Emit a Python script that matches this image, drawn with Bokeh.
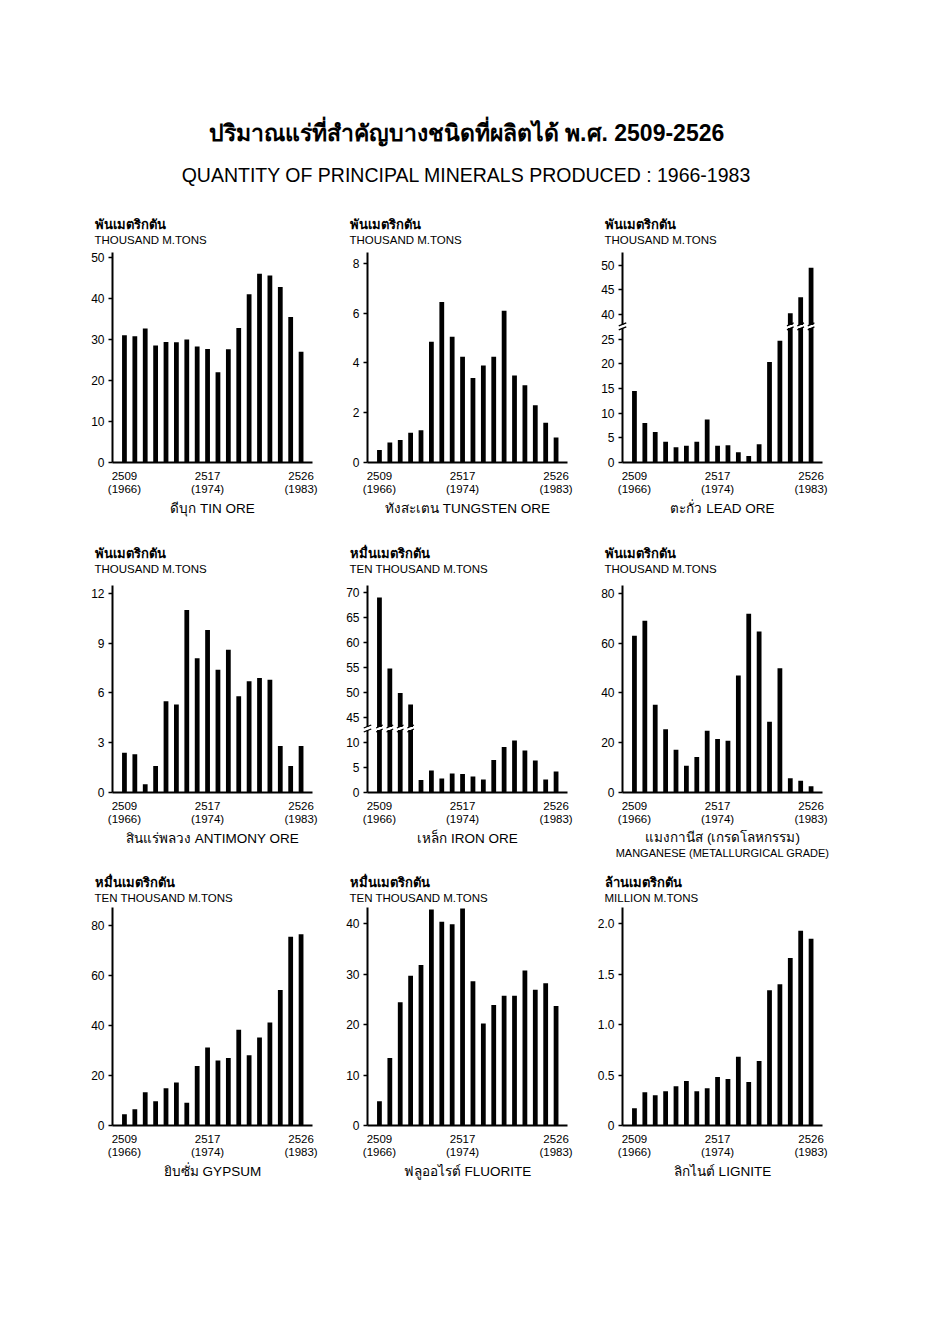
from bokeh.plotting import figure
from bokeh.models import Title, Range1d, FixedTicker, Spacer
from bokeh.layouts import column, row
from bokeh.embed import file_html
from bokeh.resources import INLINE

FONT = "Liberation Sans"

# ---------------- data ----------------
years_be = list(range(2509, 2527))          # Buddhist Era years
tick_be = [2509, 2517, 2526]
tick_ce = [1966, 1974, 1983]

tin = [31.0, 30.8, 32.7, 28.5, 29.4, 29.3, 30.0, 28.3, 27.7, 22.0, 27.6, 32.8, 41.0, 46.0, 45.6, 42.8, 35.5, 27.0]
tungsten = [0.5, 0.8, 0.9, 1.2, 1.3, 4.85, 6.45, 5.05, 4.25, 3.4, 3.9, 4.25, 6.1, 3.5, 3.1, 2.3, 1.6, 1.0]
lead = [14.5, 8.0, 6.2, 4.2, 3.1, 3.4, 4.2, 8.7, 3.4, 3.5, 2.1, 1.3, 3.7, 20.4, 24.7, 40.3, 43.5, 49.5]
antimony = [2.4, 2.3, 0.5, 1.6, 5.5, 5.3, 11.0, 8.1, 9.8, 7.4, 8.6, 5.8, 6.7, 6.9, 6.8, 2.8, 1.6, 2.8]
iron = [69.0, 54.8, 49.9, 47.6, 2.5, 4.4, 2.8, 3.8, 3.7, 3.2, 2.6, 6.5, 9.1, 10.4, 8.4, 6.4, 2.6, 4.2]
manganese = [63.0, 69.0, 35.3, 25.4, 17.2, 10.8, 14.3, 24.8, 21.5, 20.8, 47.0, 71.8, 64.7, 28.4, 49.9, 5.7, 4.7, 2.5]
gypsum = [4.5, 6.5, 13.3, 9.7, 14.9, 17.2, 9.1, 23.8, 31.2, 26.0, 27.0, 38.3, 28.1, 35.2, 41.2, 54.2, 75.5, 76.5]
fluorite = [4.8, 13.4, 24.4, 29.7, 31.8, 42.8, 40.4, 39.9, 43.0, 28.6, 20.2, 23.9, 25.7, 25.7, 30.7, 26.9, 28.2, 23.7]
lignite = [0.17, 0.33, 0.30, 0.34, 0.39, 0.44, 0.34, 0.37, 0.48, 0.46, 0.68, 0.43, 0.64, 1.34, 1.40, 1.66, 1.93, 1.85]

# broken-axis descriptions: (break position on the drawn scale, amount removed above it)
lead_break = (27.6, 10.0)
iron_break = (12.8, 30.0)

lead_ticks = [0, 5, 10, 15, 20, 25, 40, 45, 50]
iron_ticks = [0, 5, 10, 45, 50, 55, 60, 65, 70]

TH_THOUSAND = "พันเมตริกตัน"
TH_TENTHOUSAND = "หมื่นเมตริกตัน"
TH_MILLION = "ล้านเมตริกตัน"
EN_THOUSAND = "THOUSAND M.TONS"
EN_TENTHOUSAND = "TEN THOUSAND M.TONS"
EN_MILLION = "MILLION M.TONS"

# ---------------- helpers ----------------
LEFT_B = 45
FRAME_W = 200
X0, X1 = 2507.85, 2527.1


def to_display(vals, brk):
    if brk is None:
        return list(vals)
    pos, cut = brk
    return [v if v < pos else v - cut for v in vals]


def add_title(p, text, loc, size, style="normal", align="left", offset=0, standoff=None):
    t = Title(text=text, align=align, text_font_size=f"{size}px", text_font=FONT,
              text_font_style=style, offset=offset, text_color="black")
    if standoff is not None:
        t.standoff = standoff
    p.add_layout(t, loc)


def break_marks(p, xs, pos, scale, half_w, level="glyph"):
    p.rect(x=xs, y=[pos] * len(xs), width=2 * half_w, height=3 * scale,
           fill_color="white", line_color=None, level=level)
    p.segment(x0=[x - half_w * 0.8 for x in xs], y0=[pos - 3.5 * scale] * len(xs),
              x1=[x + half_w * 0.8 for x in xs], y1=[pos - 0.5 * scale] * len(xs),
              line_color="black", line_width=1.3, level=level)
    p.segment(x0=[x - half_w * 0.8 for x in xs], y0=[pos + 0.5 * scale] * len(xs),
              x1=[x + half_w * 0.8 for x in xs], y1=[pos + 3.5 * scale] * len(xs),
              line_color="black", line_width=1.3, level=level)


def panel(vals, y_end, ticks, unit_th, unit_en, names, frame_h, bottom_b, top_b=45,
          brk=None, tick_labels=None, col_w=255, unit_gap=4.0):
    height = top_b + frame_h + bottom_b
    p = figure(width=col_w, height=height, output_backend="svg", toolbar_location=None,
               x_range=Range1d(X0, X1), y_range=Range1d(0, y_end),
               min_border_left=LEFT_B, min_border_right=col_w - LEFT_B - FRAME_W,
               min_border_top=top_b, min_border_bottom=bottom_b,
               background_fill_color="white", border_fill_color="white")
    p.outline_line_color = None
    p.grid.visible = False

    disp = to_display(vals, brk)
    p.vbar(x=years_be, top=disp, bottom=0, width=0.46, fill_color="black", line_color=None)

    if brk is not None:
        pos, cut = brk
        bx = [x for x, v in zip(years_be, vals) if v >= pos]
        scale = y_end / frame_h
        break_marks(p, bx, pos, scale, 0.4)
        # break on the value axis itself
        break_marks(p, [X0], pos, scale, 0.45, level="overlay")

    # x axis
    xa = p.xaxis[0]
    xa.ticker = FixedTicker(ticks=tick_be)
    xa.major_label_overrides = {b: f"{b}\n({c})" for b, c in zip(tick_be, tick_ce)}
    xa.axis_line_width = 2
    xa.axis_line_color = "black"
    xa.major_tick_line_color = None
    xa.minor_tick_line_color = None
    xa.major_label_standoff = 1
    xa.major_label_text_font = FONT
    xa.major_label_text_font_size = "11.5px"
    xa.major_label_text_color = "black"
    xa.major_label_text_line_height = 1.1

    # y axis
    ya = p.yaxis[0]
    if brk is None:
        ya.ticker = FixedTicker(ticks=ticks)
        if tick_labels:
            ya.major_label_overrides = tick_labels
    else:
        disp_ticks = to_display(ticks, brk)
        ya.ticker = FixedTicker(ticks=disp_ticks)
        ya.major_label_overrides = {d: str(t) for d, t in zip(disp_ticks, ticks)}
    ya.axis_line_width = 2
    ya.axis_line_color = "black"
    ya.major_tick_line_color = "black"
    ya.major_tick_line_width = 1.5
    ya.major_tick_in = 0
    ya.major_tick_out = 4
    ya.minor_tick_line_color = None
    ya.major_label_standoff = 4
    ya.major_label_text_font = FONT
    ya.major_label_text_font_size = "12px"
    ya.major_label_text_color = "black"

    # units above (blank spacer title keeps them clear of the frame)
    add_title(p, " ", "above", unit_gap, standoff=0)
    add_title(p, unit_en, "above", 11.5, offset=-18, standoff=0)
    add_title(p, unit_th, "above", 13, style="bold", offset=-18, standoff=0)
    # names below
    if len(names) == 1:
        add_title(p, names[0], "below", 13.5, align="center", standoff=3)
    else:
        add_title(p, names[0], "below", 13.5, align="center", standoff=0)
        add_title(p, names[1], "below", 11, align="center", standoff=0)
    return p


# ---------------- header ----------------
header = figure(width=932, height=207, output_backend="svg", toolbar_location=None,
                min_border_top=198, min_border_bottom=0, min_border_left=0, min_border_right=0,
                x_range=Range1d(0, 1), y_range=Range1d(0, 1))
header.axis.visible = False
header.grid.visible = False
header.outline_line_color = None
add_title(header, "QUANTITY OF PRINCIPAL MINERALS PRODUCED : 1966-1983", "above", 19.5,
          align="center", standoff=26)
add_title(header, "ปริมาณแร่ที่สำคัญบางชนิดที่ผลิตได้ พ.ศ. 2509-2526", "above", 23,
          style="bold", align="center", standoff=6)

# ---------------- panels ----------------
R1H, R1B = 210, 78
R2H, R2B = 207, 76
R3H, R3B, R3T = 218, 70, 39
C3W = 285
G1, G2, G3 = 4.3, 7.4, 2.2

p_tin = panel(tin, 51.2, [0, 10, 20, 30, 40, 50], TH_THOUSAND, EN_THOUSAND,
              ["ดีบุก TIN ORE"], R1H, R1B, unit_gap=G1)
p_tung = panel(tungsten, 8.44, [0, 2, 4, 6, 8], TH_THOUSAND, EN_THOUSAND,
               ["ทังสะเตน TUNGSTEN ORE"], R1H, R1B, unit_gap=G1)
p_lead = panel(lead, 42.6, lead_ticks, TH_THOUSAND, EN_THOUSAND,
               ["ตะกั่ว LEAD ORE"], R1H, R1B, brk=lead_break, col_w=C3W, unit_gap=G1)

p_anti = panel(antimony, 12.48, [0, 3, 6, 9, 12], TH_THOUSAND, EN_THOUSAND,
               ["สินแร่พลวง ANTIMONY ORE"], R2H, R2B, unit_gap=G2)
p_iron = panel(iron, 41.4, iron_ticks, TH_TENTHOUSAND, EN_TENTHOUSAND,
               ["เหล็ก IRON ORE"], R2H, R2B, brk=iron_break, unit_gap=G2)
p_mang = panel(manganese, 83.2, [0, 20, 40, 60, 80], TH_THOUSAND, EN_THOUSAND,
               ["แมงกานีส (เกรดโลหกรรม)", "MANGANESE (METALLURGICAL GRADE)"], R2H, R2B,
               col_w=C3W, unit_gap=G2)

p_gyp = panel(gypsum, 87.2, [0, 20, 40, 60, 80], TH_TENTHOUSAND, EN_TENTHOUSAND,
              ["ยิบซั่ม GYPSUM"], R3H, R3B, top_b=R3T, unit_gap=G3)
p_flu = panel(fluorite, 43.2, [0, 10, 20, 30, 40], TH_TENTHOUSAND, EN_TENTHOUSAND,
              ["ฟลูออไรต์ FLUORITE"], R3H, R3B, top_b=R3T, unit_gap=G3)
p_lig = panel(lignite, 2.16, [0, 0.5, 1.0, 1.5, 2.0], TH_MILLION, EN_MILLION,
              ["ลิกไนต์ LIGNITE"], R3H, R3B, top_b=R3T, col_w=C3W, unit_gap=G3,
              tick_labels={0: "0", 0.5: "0.5", 1.0: "1.0", 1.5: "1.5", 2.0: "2.0"})

lay = column(
    header,
    row(Spacer(width=67), p_tin, p_tung, p_lead),
    row(Spacer(width=67), p_anti, p_iron, p_mang),
    row(Spacer(width=67), p_gyp, p_flu, p_lig),
)

open("out.html", "w").write(file_html(lay, INLINE))
